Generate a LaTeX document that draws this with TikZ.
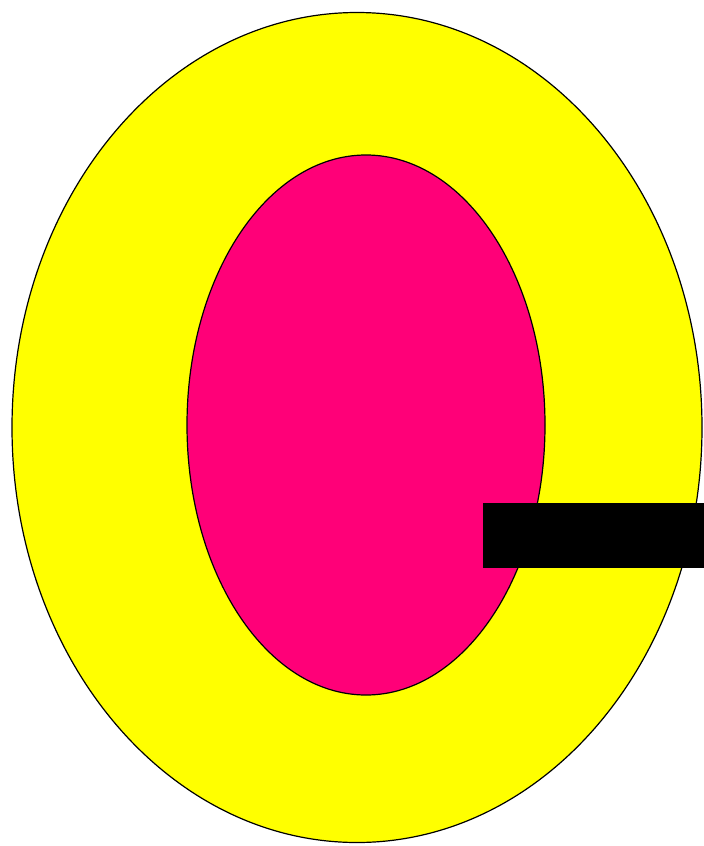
\documentclass[tikz,border=0pt]{standalone}
\definecolor{ringyellow}{RGB}{255,255,0}
\definecolor{corepink}{RGB}{255,0,120}
\tikzset{
  outline/.style={draw=black, line width=1.2pt},
  bar/.style={fill=black, draw=none}
}
\begin{document}
\begin{tikzpicture}[x=1pt,y=-1pt]
\useasboundingbox (0,0) rectangle (704,846);
\fill[white] (0,0) rectangle (704,846);
\path[outline, fill=ringyellow] (357,427.5) ellipse [x radius=345, y radius=415];
\path[outline, fill=corepink] (366,425) ellipse [x radius=179, y radius=270];
\path[bar] (483,503) rectangle (704,568);
\end{tikzpicture}
\end{document}
